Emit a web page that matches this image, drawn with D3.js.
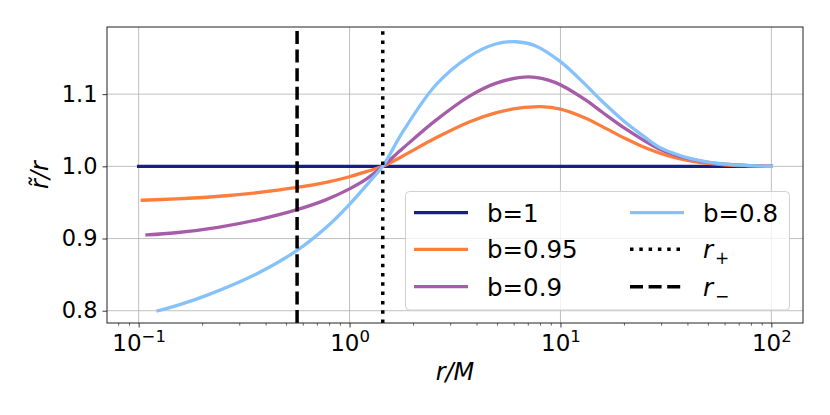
<!DOCTYPE html>
<html>
<head>
<meta charset="utf-8">
<script src="https://cdn.jsdelivr.net/npm/d3@7"></script>
<style>
  body { margin: 0; background: #fff; }
  svg { font-family: "DejaVu Sans", sans-serif; }
</style>
</head>
<body>
<svg id="chart" width="830" height="415"></svg>
<script>
// values
var rOne = [0.1, 100];
var yOne = [1.0, 1.0];

var rB95 = [0.104, 0.15, 0.226, 0.362, 0.564, 0.776, 1.0, 1.2, 1.437, 1.79, 2.57, 3.69, 4.93, 6.36, 8.05, 10, 13.1, 15.8, 20.3, 24.3, 29.2, 34.9, 41.9, 50.1, 60.3, 79.4, 100];
var yB95 = [0.953, 0.9549, 0.9579, 0.9634, 0.9707, 0.9779, 0.9856, 0.9926, 1.0, 1.0144, 1.0395, 1.0615, 1.0741, 1.0805, 1.0826, 1.0792, 1.0669, 1.055, 1.0386, 1.0278, 1.0189, 1.0121, 1.0073, 1.0042, 1.0022, 1.0008, 1.0];

var rB90 = [0.1096, 0.15, 0.238, 0.362, 0.564, 0.776, 1.0, 1.2, 1.437, 1.79, 2.57, 3.69, 4.93, 7.09, 9.48, 13.1, 15.8, 20.3, 24.3, 29.2, 34.9, 41.9, 50.1, 60.3, 79.4, 100];
var yB90 = [0.905, 0.908, 0.9156, 0.9256, 0.940, 0.9539, 0.9688, 0.9822, 1.0, 1.025, 1.064, 1.097, 1.115, 1.124, 1.116, 1.0923, 1.0749, 1.0521, 1.0377, 1.0245, 1.0158, 1.0095, 1.0055, 1.003, 1.001, 1.0];

var rB80 = [0.1236, 0.15, 0.21, 0.362, 0.564, 0.776, 1.0, 1.29, 1.437, 1.79, 2.57, 3.69, 4.93, 6.13, 7.63, 10, 13.1, 15.8, 20.3, 24.3, 29.2, 34.9, 41.9, 50.1, 60.3, 79.4, 100];
var yB80 = [0.800, 0.8067, 0.8213, 0.851, 0.8835, 0.9155, 0.9474, 0.984, 1.0, 1.048, 1.113, 1.152, 1.1694, 1.1726, 1.1668, 1.145, 1.1135, 1.0898, 1.061, 1.0435, 1.027, 1.0175, 1.0102, 1.0058, 1.003, 1.001, 1.0];

var seriesNames = ["b=1", "b=0.95", "b=0.9", "b=0.8"];
var seriesColors = ["#16207f", "#fc7e3d", "#a65ca8", "#85c1fb"];

var rPlus = 1.437;
var rMinus = 0.564;

var xTickExp = [-1, 0, 1, 2];
var yTicks = [0.8, 0.9, 1.0, 1.1];

var svg = d3.select("#chart");
var pLeft = 107, pRight = 803, pTop = 27, pBottom = 323;

var x = d3.scaleLog().domain([0.0708, 141.25]).range([pLeft, pRight]);
var y = d3.scaleLinear().domain([0.783, 1.193]).range([pBottom, pTop]);

// grid
var grid = svg.append("g").attr("stroke", "#b0b0b0").attr("stroke-width", 0.8);
xTickExp.forEach(function(e){
    var px = x(Math.pow(10, e));
    grid.append("line").attr("x1", px).attr("x2", px).attr("y1", pTop).attr("y2", pBottom);
});
yTicks.forEach(function(v){
    grid.append("line").attr("x1", pLeft).attr("x2", pRight).attr("y1", y(v)).attr("y2", y(v));
});

// curves
var line = d3.line()
    .x(function(d){ return x(d[0]); })
    .y(function(d){ return y(d[1]); })
    .curve(d3.curveCatmullRom.alpha(0.5));

var allR = [rOne, rB95, rB90, rB80];
var allY = [yOne, yB95, yB90, yB80];

allR.forEach(function(rs, i){
    var pts = rs.map(function(r, k){ return [r, allY[i][k]]; });
    svg.append("path")
        .attr("d", line(pts))
        .attr("fill", "none")
        .attr("stroke", seriesColors[i])
        .attr("stroke-width", 3.3)
        .attr("stroke-linecap", "square");
});

// horizon lines, drawn bottom to top like axvline
svg.append("line")
    .attr("x1", x(rPlus)).attr("x2", x(rPlus))
    .attr("y1", pBottom).attr("y2", pTop)
    .attr("stroke", "#000").attr("stroke-width", 3.5)
    .attr("stroke-dasharray", "3.5,5.8");
svg.append("line")
    .attr("x1", x(rMinus)).attr("x2", x(rMinus))
    .attr("y1", pBottom).attr("y2", pTop)
    .attr("stroke", "#000").attr("stroke-width", 3.5)
    .attr("stroke-dasharray", "13,5.6");

// axes
var minorTicks = [];
for (var e = -2; e <= 2; e++) {
    for (var m = 2; m <= 9; m++) {
        var v = m * Math.pow(10, e);
        if (v > x.domain()[0] && v < x.domain()[1]) minorTicks.push(v);
    }
}

svg.append("g")
    .attr("transform", "translate(0," + pBottom + ")")
    .call(d3.axisBottom(x).tickValues(minorTicks).tickSize(2.7).tickSizeOuter(0).tickFormat(""))
    .call(function(g){ g.select(".domain").remove(); g.selectAll("line").attr("stroke", "#000").attr("stroke-width", 0.6); });

var xAxis = svg.append("g")
    .attr("transform", "translate(0," + pBottom + ")")
    .call(d3.axisBottom(x).tickValues(xTickExp.map(function(e){ return Math.pow(10, e); }))
        .tickSize(4.5).tickSizeOuter(0).tickPadding(5).tickFormat(""));
xAxis.select(".domain").remove();
xAxis.selectAll("line").attr("stroke", "#000").attr("stroke-width", 0.8);
xAxis.selectAll(".tick text").each(function(d){
    var t = d3.select(this)
        .attr("font-size", 23).attr("fill", "#000")
        .attr("font-family", "DejaVu Sans")
        .attr("dy", null).attr("y", 28);
    var ex = Math.round(Math.log10(d));
    t.append("tspan").text("10");
    t.append("tspan").attr("dy", -9.5).attr("font-size", 16.5)
        .text(ex < 0 ? "\u2212" + (-ex) : String(ex));
});

var yAxis = svg.append("g")
    .attr("transform", "translate(" + pLeft + ",0)")
    .call(d3.axisLeft(y).tickValues(yTicks).tickSize(4.5).tickSizeOuter(0).tickPadding(5)
        .tickFormat(d3.format(".1f")));
yAxis.select(".domain").remove();
yAxis.selectAll("line").attr("stroke", "#000").attr("stroke-width", 0.8);
yAxis.selectAll("text").attr("font-size", 22.5).attr("fill", "#000").attr("font-family", "DejaVu Sans");

// frame
svg.append("rect")
    .attr("x", pLeft).attr("y", pTop)
    .attr("width", pRight - pLeft).attr("height", pBottom - pTop)
    .attr("fill", "none").attr("stroke", "#222").attr("stroke-width", 1);

// axis labels
svg.append("text")
    .attr("x", (pLeft + pRight) / 2).attr("y", 380)
    .attr("text-anchor", "middle").attr("font-size", 24).attr("font-style", "italic")
    .text("r/M");
svg.append("text")
    .attr("transform", "translate(48," + ((pTop + pBottom) / 2) + ") rotate(-90)")
    .attr("text-anchor", "middle").attr("font-size", 24).attr("font-style", "italic")
    .text("r\u0303/r");

// legend
var lg = svg.append("g");
lg.append("rect")
    .attr("x", 405.5).attr("y", 191.5).attr("width", 384).attr("height", 118.5)
    .attr("rx", 4).attr("fill", "#fff").attr("fill-opacity", 0.8)
    .attr("stroke", "#d0d0d0").attr("stroke-width", 1);

var rowY = [212.7, 249.3, 286.7];
var legendItems = [
    { col: 0, row: 0, label: seriesNames[0], color: seriesColors[0], dash: null },
    { col: 0, row: 1, label: seriesNames[1], color: seriesColors[1], dash: null },
    { col: 0, row: 2, label: seriesNames[2], color: seriesColors[2], dash: null },
    { col: 1, row: 0, label: seriesNames[3], color: seriesColors[3], dash: null },
    { col: 1, row: 1, label: "+", color: "#000", dash: "3.5,5.8" },
    { col: 1, row: 2, label: "\u2212", color: "#000", dash: "13,5.6" }
];
var colX = [414, 630];

legendItems.forEach(function(it){
    var x0 = colX[it.col], yy = rowY[it.row];
    var l = lg.append("line")
        .attr("x1", x0).attr("x2", x0 + 54).attr("y1", yy).attr("y2", yy)
        .attr("stroke", it.color).attr("stroke-width", it.dash ? 3.5 : 3.3);
    if (it.dash) l.attr("stroke-dasharray", it.dash);
    var t = lg.append("text").attr("x", x0 + 73).attr("y", yy + 9).attr("font-size", 24.5);
    if (it.dash) {
        t.append("tspan").attr("font-style", "italic").text("r");
        t.append("tspan").attr("dy", 6).attr("font-size", 17).attr("dx", 2).text(it.label);
    } else {
        t.text(it.label);
    }
});
</script>
</body>
</html>
